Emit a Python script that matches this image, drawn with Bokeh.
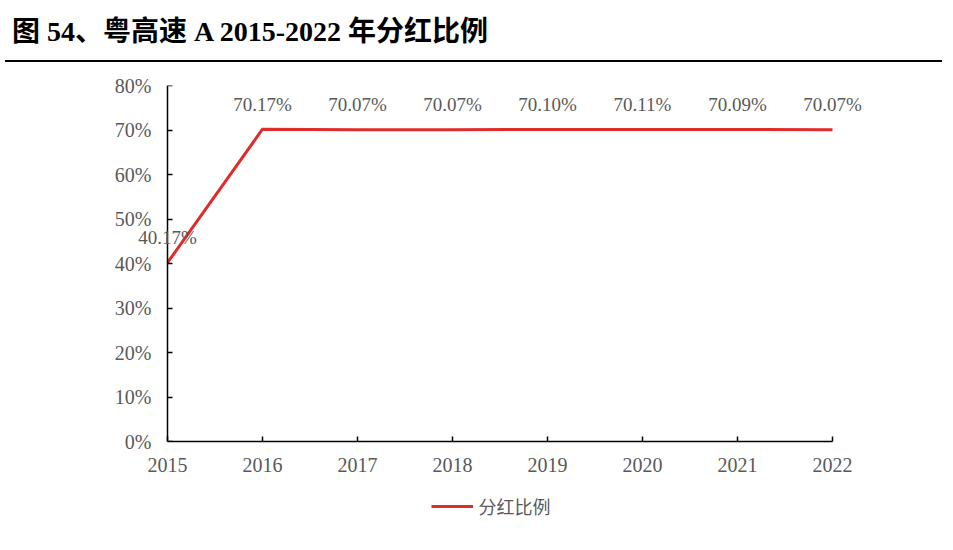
from bokeh.plotting import figure
from bokeh.models import Div, Legend, LegendItem, ColumnDataSource, FixedTicker, NumeralTickFormatter, LabelSet, LinearAxis
from bokeh.layouts import column
from bokeh.embed import file_html
from bokeh.resources import INLINE
from bokeh.core.properties import value

years = [2015, 2016, 2017, 2018, 2019, 2020, 2021, 2022]
ratio = [0.4017, 0.7017, 0.7007, 0.7007, 0.7010, 0.7011, 0.7009, 0.7007]
labels = ["40.17%", "70.17%", "70.07%", "70.07%", "70.10%", "70.11%", "70.09%", "70.07%"]
y_ticks = [0, 0.1, 0.2, 0.3, 0.4, 0.5, 0.6, 0.7, 0.8]
title_text = "图 54、粤高速 A 2015-2022 年分红比例"
series_name = "分红比例"

SERIF = "'Liberation Serif', 'Times New Roman', 'Noto Sans CJK SC', serif"
GRAY = "#595959"
RED = "#E02B2B"

title = Div(
    text=title_text,
    width=937, height=57, sizing_mode="fixed",
    styles={
        "font-family": SERIF,
        "font-size": "28px",
        "font-weight": "bold",
        "color": "#000000",
        "padding-left": "7px",
        "padding-top": "7px",
        "box-sizing": "border-box",
        "border-bottom": "2px solid #000000",
    },
)

src = ColumnDataSource(dict(x=years, y=ratio, lab=labels))

# frame: 2015 -> x=167, 2022 -> x=832 (95 px / year); x_range widened so edge labels are not clipped
p = figure(width=937, height=414, sizing_mode="fixed", output_backend="svg", toolbar_location=None,
           x_range=(2014.6, 2022.4), y_range=(0, 0.8),
           min_border_left=129, min_border_right=67,
           min_border_top=18, min_border_bottom=40,
           y_axis_location=None)
p.outline_line_color = None
p.xgrid.visible = False
p.ygrid.visible = False
p.background_fill_color = "white"

r = p.line("x", "y", source=src, line_color=RED, line_width=3)
p.add_layout(LabelSet(x="x", y="y", text="lab", source=src, text_align="center",
                      text_baseline="middle", y_offset=25, text_color=GRAY,
                      text_font=value("Liberation Serif"), text_font_size=value("19px")))

# y axis line + ticks, drawn at x = 2015
yline = LinearAxis(ticker=FixedTicker(ticks=y_ticks), fixed_location=2015,
                   major_label_text_color=None)
# y tick labels, in the left panel, shifted right so that they sit next to the 2015 line
ylab = LinearAxis(ticker=FixedTicker(ticks=y_ticks), formatter=NumeralTickFormatter(format="0%"),
                  axis_line_color=None, major_tick_line_color=None, minor_tick_line_color=None,
                  major_label_standoff=-22)
p.add_layout(ylab, "left")
p.add_layout(yline, "left")

for ax in (p.xaxis[0], yline, ylab):
    ax.major_tick_in = 5
    ax.major_tick_out = 0
    ax.minor_tick_line_color = None
    ax.major_label_text_font = "Liberation Serif"
    ax.major_label_text_font_size = "20px"
for ax in (p.xaxis[0], yline):
    ax.axis_line_color = "black"
    ax.axis_line_width = 1.5
    ax.major_tick_line_color = "black"
    ax.major_tick_line_width = 1.5
p.xaxis.major_label_text_color = GRAY
ylab.major_label_text_color = GRAY

p.xaxis.ticker = FixedTicker(ticks=years)
p.xaxis.bounds = (2015, 2022)
p.xaxis.major_label_standoff = 16

# legend in its own strip below the chart
lg = figure(width=919, height=50, sizing_mode="fixed", output_backend="svg", toolbar_location=None,
            x_range=(0, 1), y_range=(0, 1), min_border=0, min_border_left=20,
            x_axis_location=None, y_axis_location=None)
lg.grid.visible = False
lg.outline_line_color = None
lr = lg.line(x=[0, 1], y=[-5, -5], line_color=RED, line_width=3)
legend = Legend(items=[LegendItem(label=series_name, renderers=[lr])],
                location="center", orientation="horizontal",
                label_text_font="Noto Sans CJK SC", label_text_font_size="18px",
                label_text_color=GRAY, glyph_width=42, glyph_height=20,
                border_line_color=None, background_fill_alpha=0,
                margin=0, padding=0, label_standoff=6)
lg.add_layout(legend)

layout = column(title, p, lg, spacing=0)
open("out.html", "w").write(file_html(layout, INLINE))
